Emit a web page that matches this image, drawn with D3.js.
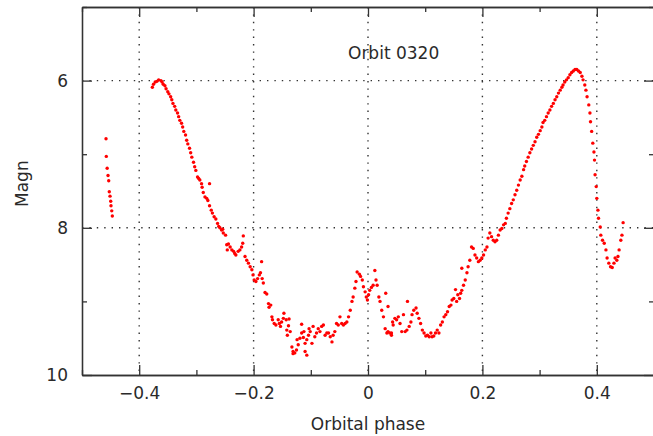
<!DOCTYPE html>
<html>
<head>
<meta charset="utf-8">
<script src="https://cdn.jsdelivr.net/npm/d3@7"></script>
<style>
  html, body { margin: 0; padding: 0; background: #fff; overflow: hidden; }
  .container { width: 653px; height: 436px; }
  svg { display: block; }
  text { font-family: "DejaVu Sans", sans-serif; font-size: 17px; fill: #2a2a2a; }
  .axis path, .axis line { stroke: #333; stroke-width: 1.3; }
  .grid line { stroke: #333; stroke-width: 1.4; stroke-dasharray: 1.4,6; }
</style>
</head>
<body>
<div class="container"></div>
<script>
var width = 653;
var height = 436;
var margin = {left: 82, top: 7, right: -1, bottom: 61};
var innerWidth = width - margin.left - margin.right;
var innerHeight = height - margin.top - margin.bottom;

// phase, magnitude
var tailPoints = [[-0.458,6.79],[-0.4575,7.03],[-0.456,7.19],[-0.4545,7.29],[-0.4533,7.36],[-0.4523,7.51],
	[-0.451,7.57],[-0.4498,7.64],[-0.4493,7.70],[-0.448,7.77],[-0.447,7.84]];

var fallPoints = [[-0.377,6.09],[-0.375,6.05],[-0.372,6.02],[-0.369,6.01],[-0.366,5.99],[-0.362,6.00],[-0.360,6.02],
	[-0.358,6.05],[-0.355,6.07],[-0.353,6.11],[-0.350,6.15],[-0.348,6.18],[-0.345,6.22],[-0.343,6.26],[-0.341,6.31],
	[-0.338,6.35],[-0.336,6.40],[-0.333,6.44],[-0.331,6.49],[-0.329,6.54],[-0.326,6.58],[-0.324,6.63],[-0.322,6.69],
	[-0.319,6.74],[-0.317,6.81],[-0.315,6.86],[-0.312,6.92],[-0.310,6.98],[-0.308,7.04],[-0.305,7.11],[-0.303,7.17],
	[-0.301,7.22],[-0.298,7.31],[-0.296,7.33],[-0.294,7.35],[-0.291,7.40],[-0.290,7.45],[-0.288,7.52],[-0.285,7.58],
	[-0.282,7.60],[-0.277,7.40],[-0.280,7.63],[-0.277,7.70],[-0.274,7.76],[-0.272,7.80],[-0.269,7.85],[-0.266,7.88],
	[-0.263,7.94],[-0.261,7.98],[-0.259,8.00],[-0.256,8.03],[-0.254,8.02],[-0.253,8.07],[-0.249,8.10],[-0.247,8.23],
	[-0.244,8.22],[-0.241,8.26],[-0.246,8.30],[-0.238,8.30],[-0.235,8.32],[-0.233,8.35],[-0.231,8.37],[-0.227,8.32],
	[-0.224,8.30],[-0.221,8.26],[-0.219,8.21],[-0.218,8.11],[-0.215,8.39],[-0.212,8.44],[-0.209,8.48],[-0.206,8.53],
	[-0.203,8.57],[-0.201,8.64],[-0.199,8.71],[-0.196,8.73],[-0.193,8.69],[-0.190,8.64],[-0.188,8.61],[-0.186,8.46],
	[-0.185,8.69],[-0.183,8.75]];

var troughPoints = [[-0.180,8.88],[-0.177,8.90],[-0.174,9.03],[-0.173,9.08],[-0.170,9.05],[-0.168,9.21],[-0.167,9.25],
	[-0.164,9.30],[-0.161,9.32],[-0.157,9.25],[-0.155,9.30],[-0.153,9.34],[-0.151,9.28],[-0.148,9.23],[-0.147,9.16],
	[-0.143,9.25],[-0.139,9.33],[-0.138,9.24],[-0.141,9.46],[-0.136,9.41],[-0.142,9.39],[-0.133,9.62],[-0.131,9.68],
	[-0.128,9.70],[-0.125,9.66],[-0.122,9.59],[-0.124,9.52],[-0.116,9.43],[-0.113,9.49],[-0.110,9.57],[-0.107,9.52],
	[-0.104,9.46],[-0.103,9.37],[-0.131,9.71],[-0.119,9.50],[-0.116,9.31],[-0.112,9.41],[-0.110,9.68],[-0.107,9.73],
	[-0.101,9.41],[-0.098,9.57],[-0.096,9.34],[-0.093,9.48],[-0.090,9.43],[-0.087,9.37],[-0.084,9.41],[-0.081,9.34],
	[-0.078,9.32],[-0.075,9.46],[-0.072,9.43],[-0.069,9.43],[-0.066,9.48],[-0.063,9.55],[-0.061,9.46],[-0.058,9.41],
	[-0.055,9.30],[-0.052,9.32],[-0.049,9.21],[-0.046,9.30],[-0.043,9.32],[-0.040,9.30],[-0.037,9.28],[-0.034,9.21],
	[-0.031,9.12],[-0.028,9.00],[-0.026,8.94],[-0.023,8.82],[-0.021,8.73],[-0.019,8.60],[-0.015,8.63],[-0.013,8.66],
	[-0.010,8.71],[-0.008,8.80],[-0.005,8.87],[-0.003,8.94],[-0.001,8.98],[0.001,8.91],[0.003,8.85],[0.006,8.81],
	[0.009,8.78],[0.012,8.58],[0.014,8.71],[0.016,8.78],[0.019,8.94],[0.021,9.00],[0.024,9.12],[0.027,9.21],
	[0.030,9.37],[0.033,9.43],[0.035,9.41],[0.038,9.43],[0.041,9.43],[0.043,9.28],[0.035,9.07],[0.047,9.23],
	[0.050,9.25],[0.053,9.21],[0.031,8.89],[0.041,9.46],[0.044,9.32],[0.056,9.30],[0.059,9.41],[0.062,9.18],
	[0.065,9.41],[0.068,9.39],[0.069,9.00],[0.072,9.34],[0.075,9.28],[0.077,9.18],[0.080,9.12],[0.084,9.09],
	[0.086,9.16],[0.089,9.23],[0.092,9.30],[0.095,9.39],[0.098,9.43],[0.101,9.47],[0.104,9.46],[0.107,9.48],
	[0.110,9.43],[0.112,9.48],[0.115,9.47],[0.118,9.43],[0.121,9.39],[0.124,9.43],[0.127,9.32],[0.130,9.28],
	[0.133,9.21],[0.136,9.18],[0.139,9.14],[0.142,9.07],[0.145,9.05],[0.147,8.98],[0.150,8.96]];

var risePoints = [[0.153,8.84],[0.155,9.00],[0.157,8.91],[0.160,8.96],[0.162,8.89],[0.164,8.85],[0.167,8.78],
	[0.170,8.71],[0.173,8.61],[0.175,8.53],[0.164,8.55],[0.178,8.44],[0.181,8.26],[0.184,8.28],[0.187,8.37],
	[0.190,8.41],[0.193,8.46],[0.196,8.44],[0.199,8.41],[0.202,8.37],[0.205,8.30],[0.208,8.26],[0.210,8.14],
	[0.213,8.07],[0.216,8.12],[0.219,8.17],[0.222,8.19],[0.225,8.17],[0.228,8.10],[0.231,8.03],[0.234,8.01],
	[0.237,7.96],[0.240,7.94],[0.242,7.87],[0.245,7.80],[0.248,7.74],[0.251,7.67],[0.254,7.62],[0.257,7.55],
	[0.260,7.49],[0.263,7.42],[0.266,7.35],[0.269,7.30],[0.272,7.21],[0.274,7.16],[0.277,7.10],[0.280,7.04],
	[0.283,6.98],[0.286,6.93],[0.289,6.88],[0.292,6.83],[0.295,6.77],[0.298,6.73],[0.301,6.68],[0.304,6.63],
	[0.306,6.57],[0.309,6.54],[0.312,6.49],[0.315,6.44],[0.318,6.40],[0.321,6.35],[0.324,6.31],[0.327,6.26],
	[0.330,6.22],[0.333,6.17],[0.336,6.13],[0.339,6.09],[0.341,6.06],[0.344,6.02],[0.347,5.99],[0.350,5.96],
	[0.353,5.92],[0.356,5.89],[0.359,5.87],[0.362,5.85],[0.365,5.85],[0.368,5.87],[0.371,5.89],[0.374,5.94],
	[0.376,5.99],[0.379,6.06],[0.381,6.13],[0.383,6.22],[0.386,6.33],[0.388,6.44],[0.389,6.56],[0.391,6.69],
	[0.393,6.85],[0.395,6.97],[0.396,7.08],[0.397,7.28],[0.399,7.44],[0.400,7.60],[0.402,7.76],[0.403,7.87],
	[0.406,7.99],[0.407,8.10],[0.410,8.17],[0.413,8.21],[0.416,8.30],[0.418,8.41],[0.421,8.48],[0.424,8.53],
	[0.427,8.54],[0.430,8.48],[0.432,8.41],[0.435,8.44],[0.437,8.39],[0.439,8.30],[0.442,8.17],[0.444,8.10],
	[0.446,7.93]];

var xMajorTicks = [-0.4, -0.2, 0, 0.2, 0.4];
var xMajorLabels = ['\u22120.4', '\u22120.2', '0', '0.2', '0.4'];
var xMinorTicks = [-0.5, -0.3, -0.1, 0.1, 0.3, 0.5];
var yMajorTicks = [6, 8, 10];
var yMinorTicks = [5, 7, 9];
var xGrid = [-0.4, -0.2, 0, 0.2, 0.4];
var yGrid = [6, 8];
var title = 'Orbit 0320';
var xTitle = 'Orbital phase';
var yTitle = 'Magn';

var translate = function(x, y) {
	return 'translate(' + x + ',' + y + ')';
};

var draw = function() {
	var svg = d3.select('.container').append('svg')
		.attr('width', width)
		.attr('height', height);

	var xScale = d3.scaleLinear().domain([-0.5, 0.5]).range([0, innerWidth]);
	var yScale = d3.scaleLinear().domain([5, 10]).range([0, innerHeight]);

	var plot = svg.append('g').attr('transform', translate(margin.left, margin.top));

	// dotted grid
	plot.append('g').classed('grid', true).selectAll('line').data(xGrid).enter()
		.append('line')
		.attr('x1', function(d) { return xScale(d); })
		.attr('x2', function(d) { return xScale(d); })
		.attr('y1', 0).attr('y2', innerHeight);
	plot.append('g').classed('grid', true).selectAll('line').data(yGrid).enter()
		.append('line')
		.attr('y1', function(d) { return yScale(d); })
		.attr('y2', function(d) { return yScale(d); })
		.attr('x1', 0).attr('x2', innerWidth);

	// frame ticks pointing inwards
	var addAxis = function(axis, x, y) {
		var g = plot.append('g').classed('axis', true).attr('transform', translate(x, y)).call(axis);
		g.select('.domain').attr('fill', 'none');
		g.selectAll('text').filter(function() { return this.textContent === ''; }).remove();
		return g;
	};

	addAxis(d3.axisBottom(xScale).tickValues(xMinorTicks).tickSizeInner(-5).tickSizeOuter(0).tickFormat(''), 0, innerHeight);
	addAxis(d3.axisBottom(xScale).tickValues(xMajorTicks).tickSizeInner(-10).tickSizeOuter(0).tickPadding(12)
		.tickFormat(function(d, i) { return xMajorLabels[i]; }), 0, innerHeight);
	addAxis(d3.axisTop(xScale).tickValues(xMinorTicks).tickSizeInner(-5).tickSizeOuter(0).tickFormat(''), 0, 0);
	addAxis(d3.axisTop(xScale).tickValues(xMajorTicks).tickSizeInner(-10).tickSizeOuter(0).tickFormat(''), 0, 0);

	addAxis(d3.axisLeft(yScale).tickValues(yMinorTicks).tickSizeInner(-5).tickSizeOuter(0).tickFormat(''), 0, 0);
	addAxis(d3.axisLeft(yScale).tickValues(yMajorTicks).tickSizeInner(-10).tickSizeOuter(0).tickPadding(14)
		.tickFormat(d3.format('d')), 0, 0);
	addAxis(d3.axisRight(yScale).tickValues(yMinorTicks).tickSizeInner(-5).tickSizeOuter(0).tickFormat(''), innerWidth, 0);
	addAxis(d3.axisRight(yScale).tickValues(yMajorTicks).tickSizeInner(-10).tickSizeOuter(0).tickFormat(''), innerWidth, 0);

	svg.selectAll('.axis').attr('font-size', null).attr('font-family', null);

	// observations
	var allPoints = tailPoints.concat(fallPoints, troughPoints, risePoints);
	plot.append('g').selectAll('circle').data(allPoints).enter()
		.append('circle')
		.attr('cx', function(d) { return xScale(d[0]); })
		.attr('cy', function(d) { return yScale(d[1]); })
		.attr('r', 1.7)
		.attr('fill', '#ff0000');

	svg.append('text')
		.attr('x', 348).attr('y', 59)
		.text(title);

	svg.append('text')
		.attr('x', margin.left + xScale(0)).attr('y', 430)
		.attr('text-anchor', 'middle')
		.text(xTitle);

	svg.append('text')
		.attr('transform', translate(28, margin.top + yScale(7.4)) + ' rotate(-90)')
		.attr('text-anchor', 'middle')
		.text(yTitle);
};

window.onload = draw;
</script>
</body>
</html>
